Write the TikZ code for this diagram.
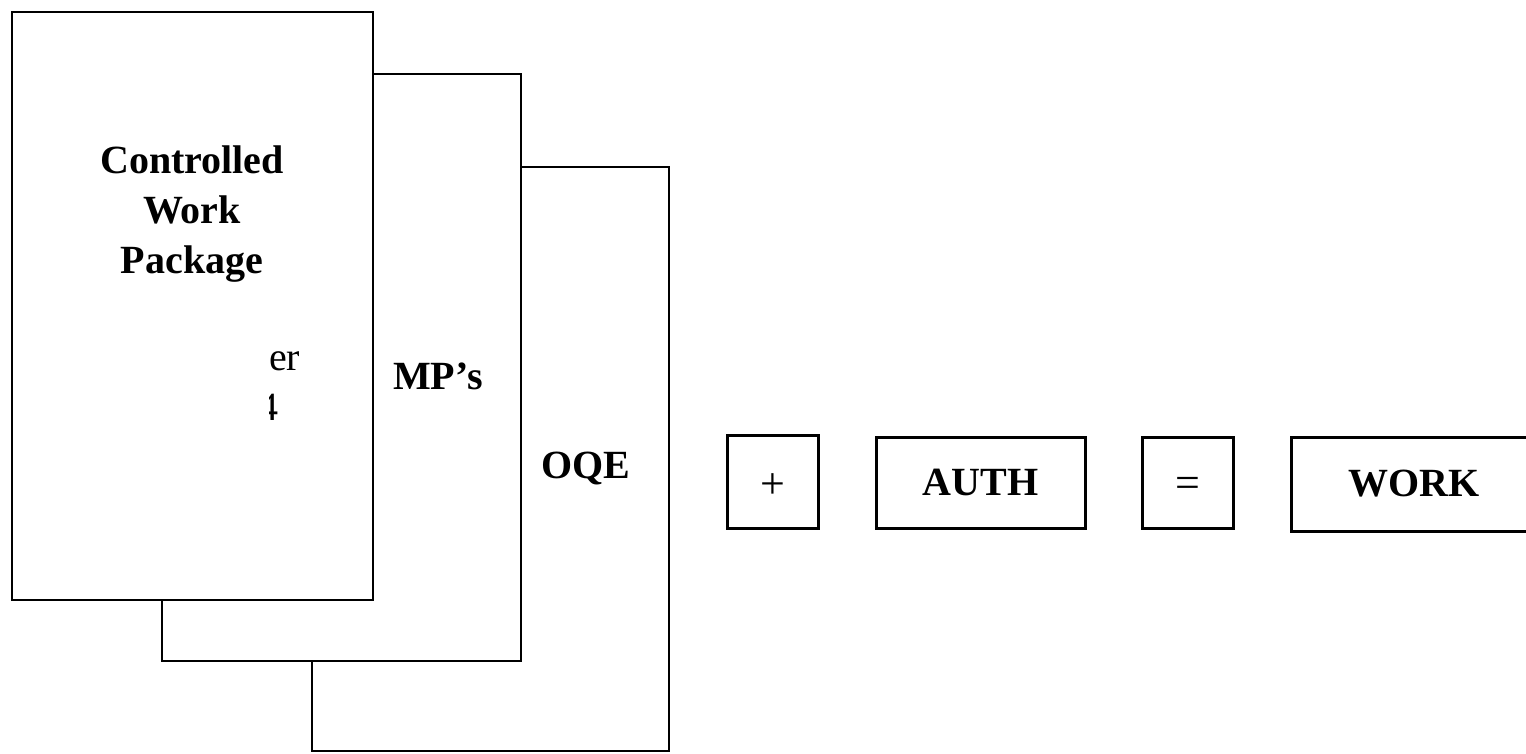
\documentclass[tikz,border=0pt]{standalone}
\usepackage{fontspec}
\setmainfont{Liberation Serif}
\usetikzlibrary{positioning}

\begin{document}
\begin{tikzpicture}[x=1pt,y=-1pt,
	sheet/.style={draw=black, fill=white, line width=2.6pt},
	sign/.style={draw=black, fill=white, line width=3pt, font=\bfseries\fontsize{40}{50}\selectfont},
	symbol/.style={inner sep=0pt, font=\fontsize{44}{50}\selectfont},
	label/.style={inner sep=0pt, font=\bfseries\fontsize{40}{50}\selectfont}]
	\useasboundingbox (0,0) rectangle (1526,754);
	% the three sheets, back to front
	\node[sheet, minimum width=357pt, minimum height=584pt] (oqe) at (490.5,459) {};
	\node[sheet, minimum width=359pt, minimum height=587pt] (mps) at (341.5,367.5) {};
	\node[sheet, minimum width=361pt, minimum height=588pt] (cwp) at (192.5,306) {};
	\node[label, align=center] (cwptext) at (192,214) {Controlled\\Work\\Package};
	\node[inner sep=0pt, anchor=base west, font=\fontsize{40}{50}\selectfont] (pgletter) at (269,370) {er};
	\begin{scope}
		\clip (269,385) rectangle (300,430);
		\node[inner sep=0pt, anchor=base west, font=\fontsize{40}{50}\selectfont] (pgnum) at (258,420) {4};
	\end{scope}
	\node[label] (mpstext) at (438,376) {MP’s};
	\node[label] (oqetext) at (586,468) {OQE};
	% the sum
	\node[sign, minimum width=91pt, minimum height=93pt] (plus) at (772.5,481.5) {};
	\node[symbol] (plussym) at ([yshift=-5pt]plus.center) {+};
	\node[sign, minimum width=209pt, minimum height=91pt] (auth) at (980.5,482.5) {AUTH};
	\node[sign, minimum width=91pt, minimum height=91pt] (equals) at (1187.5,482.5) {};
	\node[symbol] (equalssym) at ([yshift=-5pt]equals.center) {=};
	\node[sign, minimum width=239pt, minimum height=94pt, text width=190pt, align=left] (work) at (1410.5,484) {\hspace*{33pt}WORK};
\end{tikzpicture}
\end{document}
